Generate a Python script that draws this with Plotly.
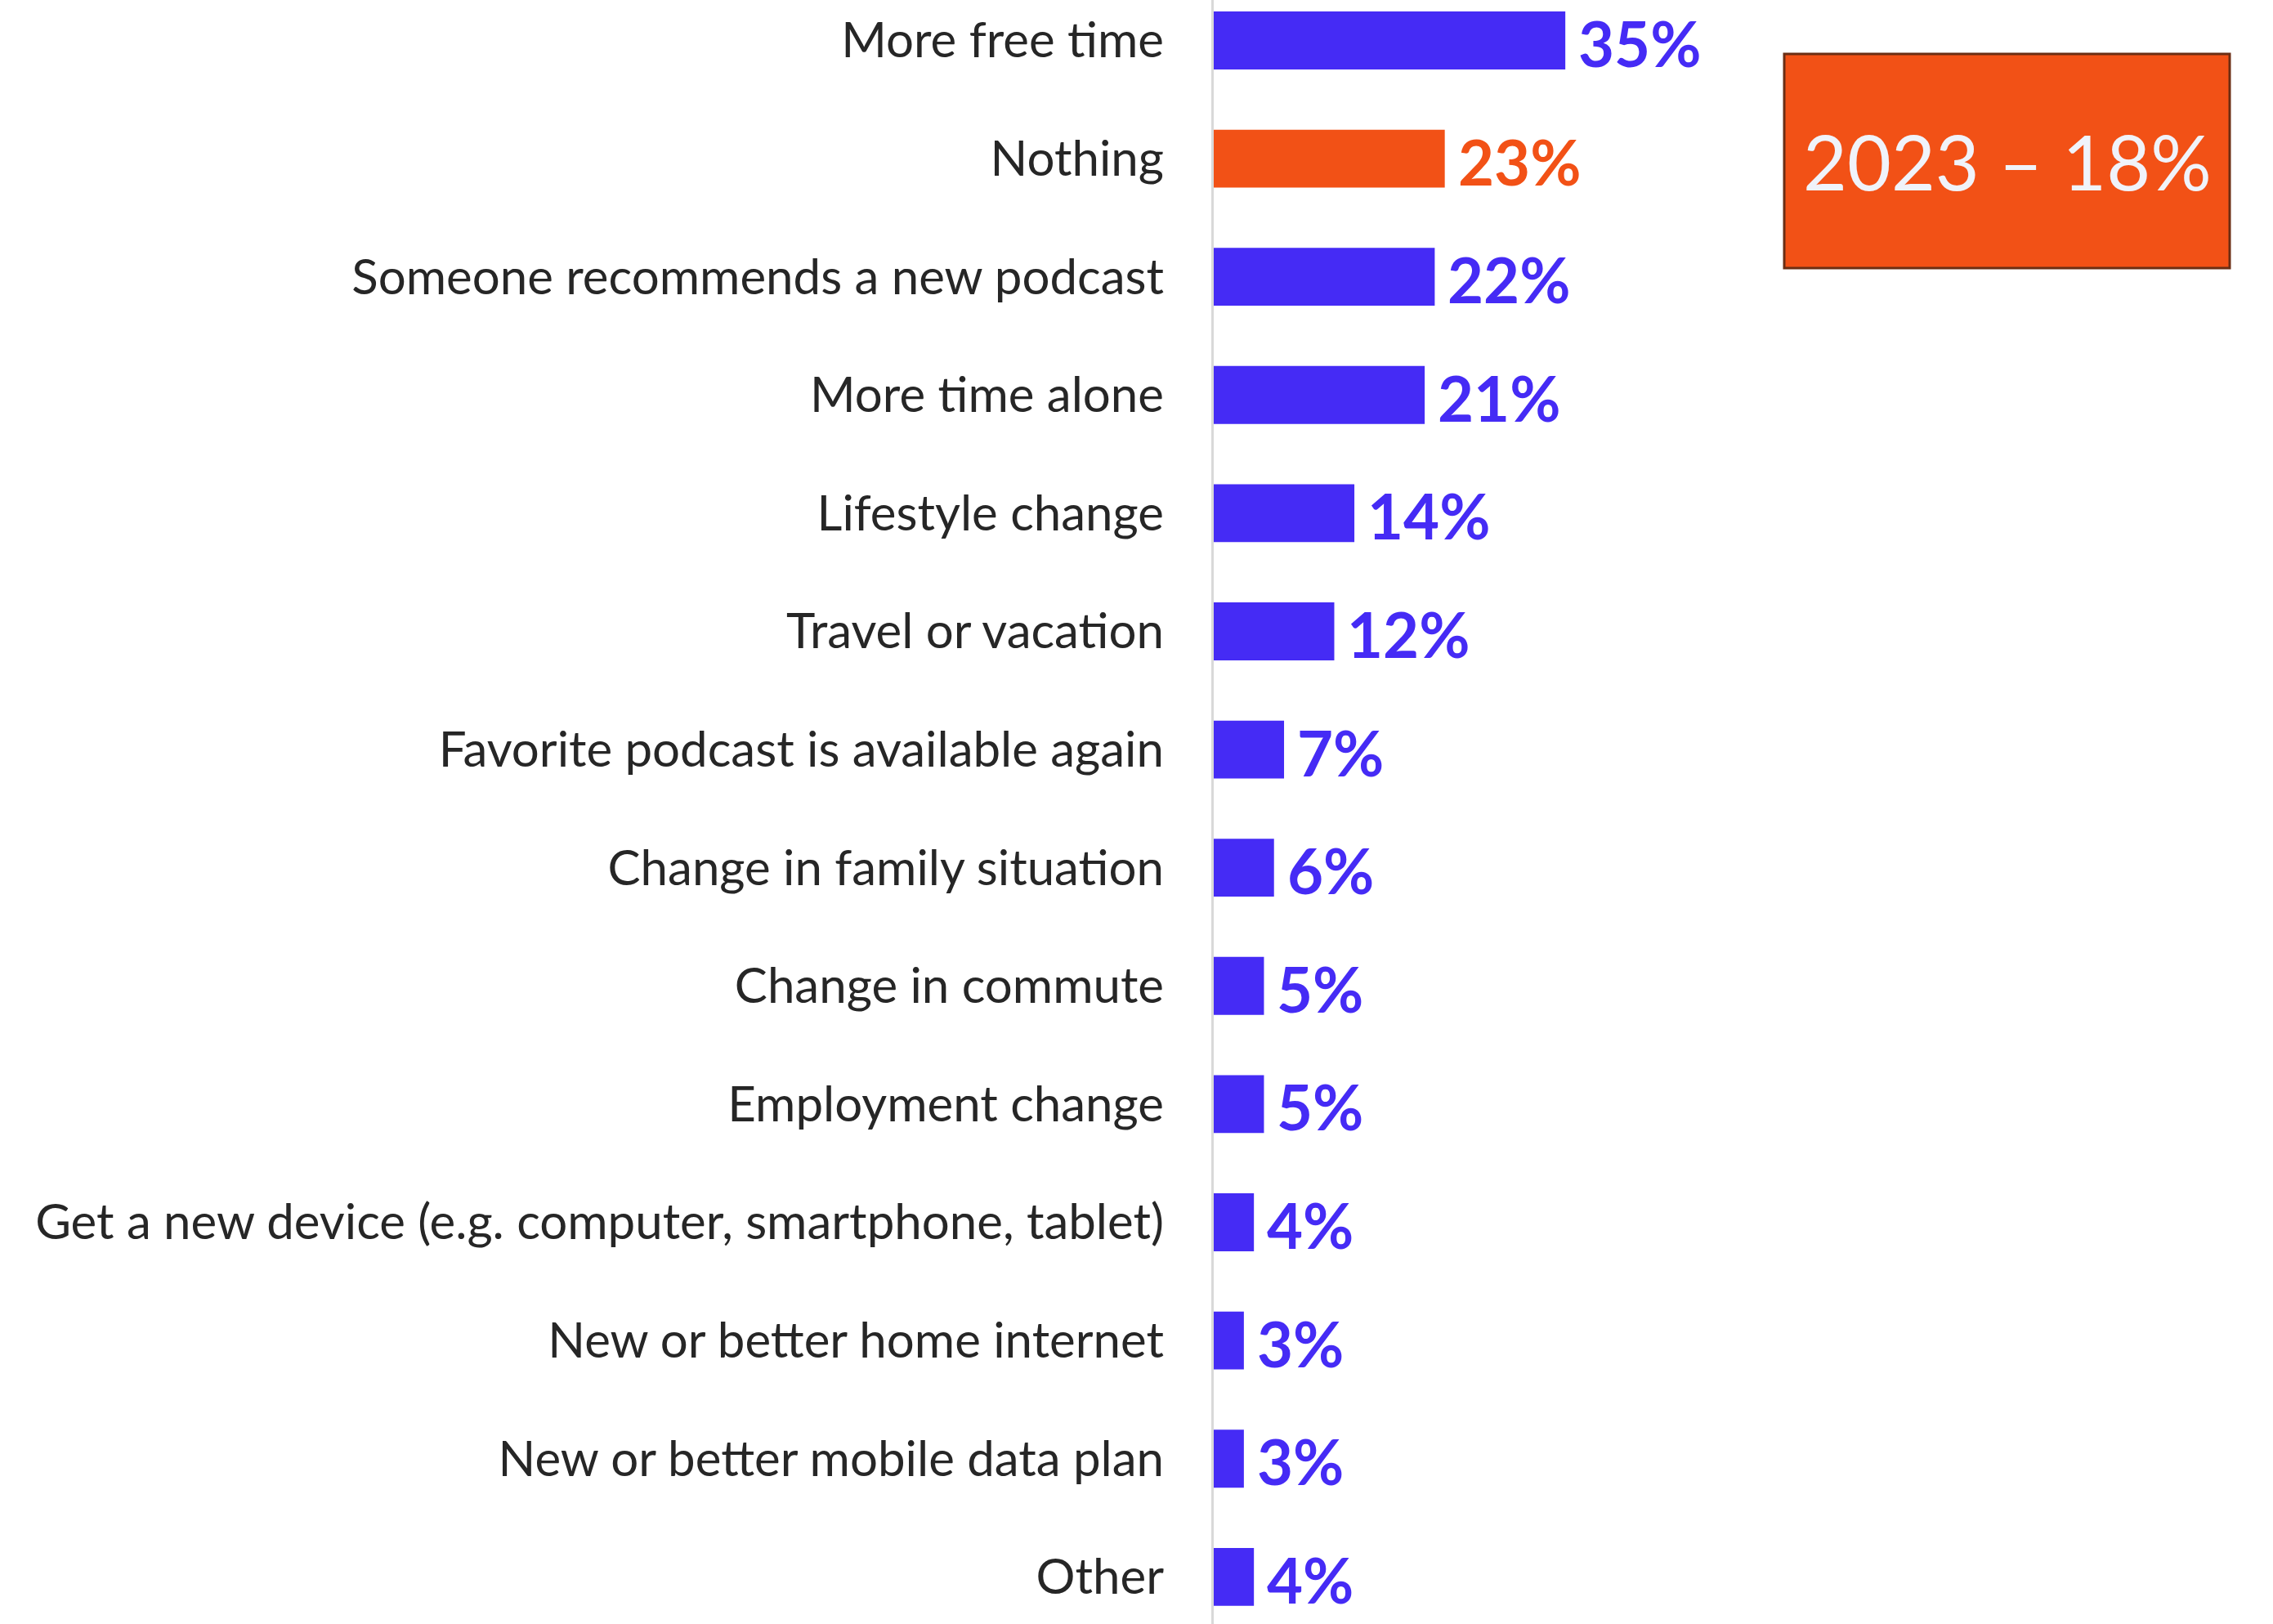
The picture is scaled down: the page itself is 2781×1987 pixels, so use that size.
import plotly.graph_objects as go

# Survey answers and shares (%)
categories = [
    "More free time",
    "Nothing",
    "Someone recommends a new podcast",
    "More time alone",
    "Lifestyle change",
    "Travel or vacation",
    "Favorite podcast is available again",
    "Change in family situation",
    "Change in commute",
    "Employment change",
    "Get a new device (e.g. computer, smartphone, tablet)",
    "New or better home internet",
    "New or better mobile data plan",
    "Other",
]
values = [35, 23, 22, 21, 14, 12, 7, 6, 5, 5, 4, 3, 3, 4]
highlight = "Nothing"
callout_text = "2023 – 18%"

BLUE = "#452BF5"
ORANGE = "#F25116"
colors = [ORANGE if c == highlight else BLUE for c in categories]

W, H = 2781, 1987
LEFT = 1485

fig = go.Figure(
    go.Bar(
        x=values,
        y=categories,
        orientation="h",
        marker=dict(color=colors, line=dict(width=0)),
        hoverinfo="skip",
    )
)

# Value labels just right of each bar end
for cat, val, col in zip(categories, values, colors):
    fig.add_annotation(
        x=val,
        y=cat,
        xref="x",
        yref="y",
        text=f"{val}%",
        showarrow=False,
        xanchor="left",
        yanchor="middle",
        xshift=14,
        yshift=-3,
        font=dict(family="Lato", size=76, color=col, weight="bold"),
    )

fig.update_layout(
    width=W,
    height=H,
    margin=dict(l=LEFT, r=0, t=0, b=0),
    paper_bgcolor="white",
    plot_bgcolor="white",
    bargap=0.51,
    showlegend=False,
    font=dict(family="Lato", color="#262626"),
)

fig.update_xaxes(
    range=[0, (W - LEFT) / 12.29],
    visible=False,
    showgrid=False,
    zeroline=False,
)
fig.update_yaxes(
    type="category",
    categoryorder="array",
    categoryarray=categories,
    range=[13.399, -0.342],
    showgrid=False,
    zeroline=False,
    showline=True,
    linecolor="#D9D9D9",
    linewidth=3,
    ticks="",
    ticklabelstandoff=46,
    tickfont=dict(family="Lato", size=60, color="#262626"),
)

# Callout box with the previous year's figure
bx0, bx1 = (2183 - LEFT) / (W - LEFT), (2728 - LEFT) / (W - LEFT)
by0, by1 = 1 - 328 / H, 1 - 66 / H
fig.add_shape(
    type="rect",
    xref="paper",
    yref="paper",
    x0=bx0,
    x1=bx1,
    y0=by0,
    y1=by1,
    fillcolor=ORANGE,
    line=dict(color="#6B2E14", width=3),
    layer="above",
)
fig.add_annotation(
    xref="paper",
    yref="paper",
    x=(bx0 + bx1) / 2,
    y=(by0 + by1) / 2,
    text=callout_text,
    showarrow=False,
    font=dict(family="Lato", size=93, color="#F0F3FA"),
    xanchor="center",
    yanchor="middle",
)

fig.write_html("out.html")
